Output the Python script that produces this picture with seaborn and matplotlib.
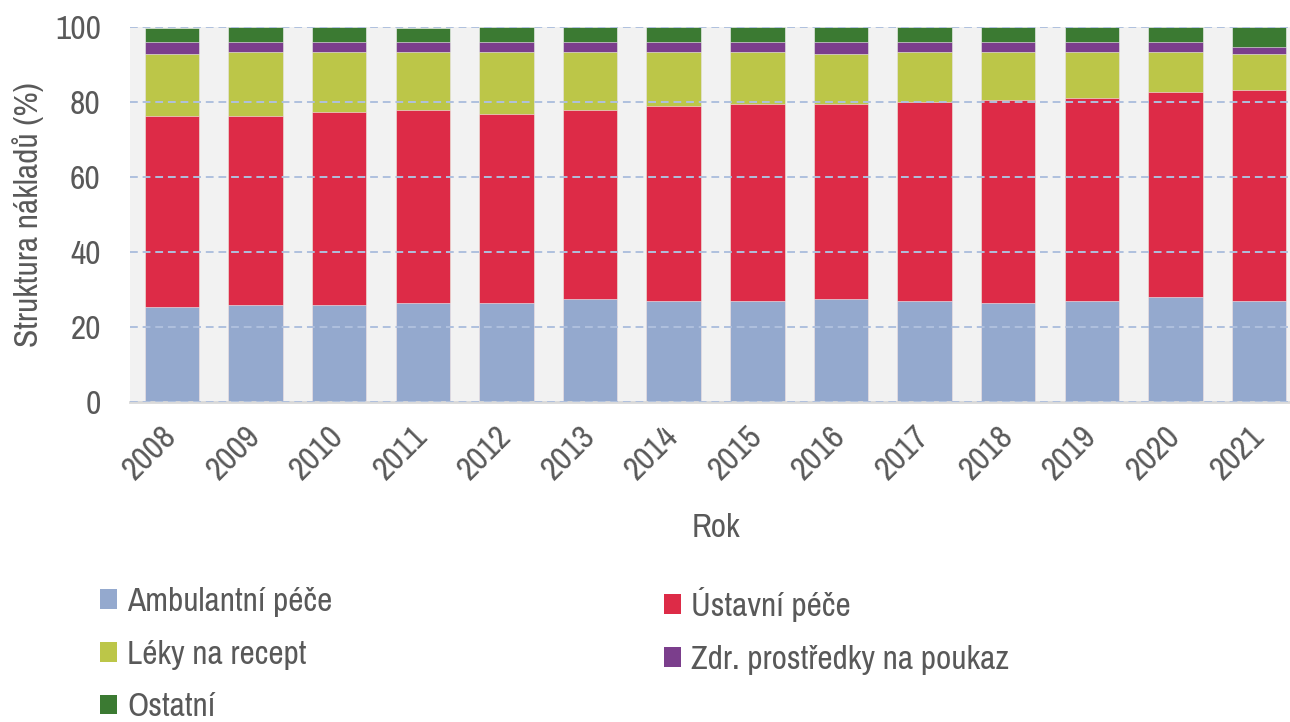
import matplotlib
matplotlib.use("Agg")
import matplotlib.pyplot as plt
from matplotlib import font_manager
from matplotlib.patches import Patch
import numpy as np
import seaborn as sns

years = ["2008", "2009", "2010", "2011", "2012", "2013", "2014",
         "2015", "2016", "2017", "2018", "2019", "2020", "2021"]

ambulantni = [25.3, 25.9, 25.9, 26.4, 26.4, 27.4, 26.9, 26.9, 27.5, 26.9, 26.4, 26.9, 28.0, 26.9]
ustavni = [51.1, 50.5, 51.5, 51.5, 50.5, 50.5, 52.1, 52.6, 52.0, 53.2, 54.2, 54.2, 54.7, 56.4]
leky = [16.4, 17.0, 16.0, 15.5, 16.5, 15.5, 14.4, 13.9, 13.3, 13.3, 12.8, 12.3, 10.7, 9.5]
zdr_prostredky = [3.1, 2.5, 2.5, 2.5, 2.5, 2.5, 2.5, 2.5, 3.1, 2.5, 2.5, 2.5, 2.5, 2.0]
ostatni = [3.7, 4.1, 4.1, 3.7, 4.1, 4.1, 4.1, 4.1, 4.1, 4.1, 4.1, 4.1, 4.1, 5.2]

series_names = ["Ambulantní péče", "Ústavní péče", "Léky na recept",
                "Zdr. prostředky na poukaz", "Ostatní"]
series_values = [ambulantni, ustavni, leky, zdr_prostredky, ostatni]
series_colors = ["#94A9CE", "#DD2B47", "#BCC648", "#7B3E8C", "#3B7A32"]

y_ticks = [0, 20, 40, 60, 80, 100]

sns.set_theme(style="white")

# prefer a narrow sans face; fall back to a regular one at a smaller size
available = {f.name for f in font_manager.fontManager.ttflist}
if "Archivo Narrow" in available:
    family, scale = "Archivo Narrow", 1.0
elif "Liberation Sans Narrow" in available:
    family, scale = "Liberation Sans Narrow", 1.0
else:
    family, scale = "Liberation Sans", 0.88
plt.rcParams["font.family"] = [family, "DejaVu Sans"]
text_color = "#595959"

W, H = 1290, 722
fig = plt.figure(figsize=(W / 100, H / 100), dpi=100)
left, right, top, bottom = 130, 1301, 27, 402
ax = fig.add_axes([left / W, 1 - bottom / H, (right - left) / W, (bottom - top) / H])
ax.set_facecolor("#F2F2F2")

# stacked bars: draw cumulative totals from the top segment down
cum = np.cumsum(np.array(series_values), axis=0)
for i in range(len(series_names) - 1, -1, -1):
    sns.barplot(x=years, y=cum[i], color=series_colors[i], saturation=1,
                width=0.65, edgecolor="#F4F4F4", linewidth=0.4, ax=ax)

ax.set_ylim(0, 100)
ax.set_xlim(-0.5, len(years) - 0.5)
ax.set_yticks(y_ticks)
ax.set_yticklabels([str(t) for t in y_ticks])

ax.set_axisbelow(False)
ax.yaxis.grid(True, linestyle=(0, (4, 2.5)), color="#AFC0DE", linewidth=1.4)
ax.xaxis.grid(False)

for s in ["left", "right", "top"]:
    ax.spines[s].set_visible(False)
ax.spines["bottom"].set_color("#D9D9D9")
ax.spines["bottom"].set_linewidth(2)

ax.tick_params(axis="y", length=0, pad=21, labelsize=24 * scale, labelcolor=text_color)
ax.tick_params(axis="x", length=0, pad=21, labelsize=24 * scale, labelcolor=text_color)
for lab in ax.get_xticklabels():
    lab.set_rotation(45)
    lab.set_ha("right")
    lab.set_va("center")
    lab.set_rotation_mode("anchor")

ax.set_ylabel("Struktura nákladů (%)", fontsize=24 * scale, color=text_color, labelpad=8)
ax.set_xlabel("Rok", fontsize=24 * scale, color=text_color, labelpad=20)

handles = [Patch(facecolor=c, edgecolor="none") for c in series_colors]
leg_kw = dict(frameon=False, prop={"size": 24 * scale}, labelcolor=text_color,
              handlelength=0.52, handleheight=0.52, handletextpad=0.3,
              labelspacing=0.68, borderaxespad=0, borderpad=0)
leg1 = fig.legend([handles[0], handles[2], handles[4]],
                  [series_names[0], series_names[2], series_names[4]],
                  loc="upper left", bbox_to_anchor=(100 / W, 1 - 587 / H), **leg_kw)
leg2 = fig.legend([handles[1], handles[3]],
                  [series_names[1], series_names[3]],
                  loc="upper left", bbox_to_anchor=(664 / W, 1 - 587 / H), **leg_kw)

fig.savefig("out.png", dpi=100)
